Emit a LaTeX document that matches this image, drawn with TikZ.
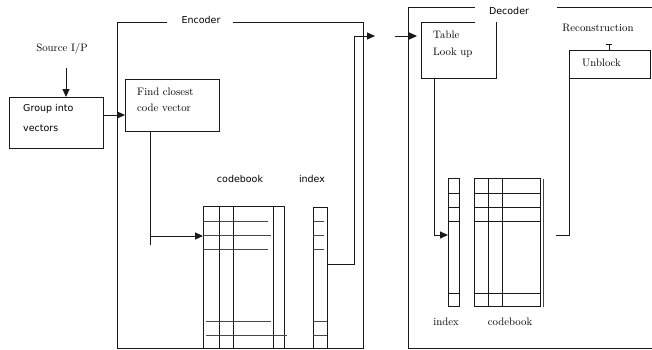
\documentclass[tikz,border=0pt]{standalone}
\usepackage{fontspec}
\newfontfamily\sansf{DejaVu Sans}
\usetikzlibrary{arrows.meta}
\begin{document}
\begin{tikzpicture}[x=1pt,y=-1pt,
  ln/.style={line width=1pt, draw=black!90},
  gl/.style={line width=1pt, draw=black!72},
  arr/.style={ln,-{Triangle[length=8pt,width=7pt]}},
  box/.style={ln, draw, rectangle, inner sep=0pt, outer sep=0pt},
  ghost/.style={rectangle, inner sep=0pt, outer sep=0pt},
  ser/.style={font=\fontsize{10.8}{13}\selectfont, inner sep=0pt, anchor=west},
  serc/.style={font=\fontsize{10.8}{13}\selectfont, inner sep=0pt},
  san/.style={font=\sansf\fontsize{9.5}{12}\selectfont, inner sep=0pt, anchor=west},
  sanc/.style={font=\sansf\fontsize{9.5}{12}\selectfont, inner sep=0pt},
]
\useasboundingbox (0,0) rectangle (652,349);

% ---------- Encoder frame ----------
\draw[ln] (167,22) -- (117,22) -- (117,348) -- (363,348) -- (363,22) -- (233,22);
\node[sanc] (enclab) at (201,20) {Encoder};

% ---------- Decoder frame ----------
\draw[ln] (475,7) -- (408,7) -- (408,348) -- (652,348);
\draw[ln] (557,7) -- (652,7);
\node[sanc] (declab) at (509,11) {Decoder};

% ---------- Source / Group ----------
\node[serc] (src) at (62,49) {Source I/P};
\node[box, minimum width=94pt, minimum height=51pt] (group) at (56,122.5) {};
\node[san] (g1) at (23,109) {Group into};
\node[san] (g2) at (23,128) {vectors};
\coordinate (s1) at (66,68);
\draw[arr] (s1) -- (s1 |- group.north);

% ---------- Find closest ----------
\node[box, minimum width=94pt, minimum height=52pt] (find) at (172,105) {};
\node[ser] (f1) at (137,92) {Find closest};
\node[ser] (f2) at (137,108) {code vector};
\coordinate (a1) at (0,115);
\draw[arr] (group.east |- a1) -- (find.west |- a1);

% ---------- Encoder codebook ----------
\node[box, minimum width=81pt, minimum height=142pt] (ecb) at (243.5,277) {};
\node[sanc] (ecblab) at (240,179) {codebook};
\foreach \x in {219,233,273} \draw[ln] (\x,206) -- (\x,348);
\draw[gl] (203,221) -- (268,221);
\draw[gl] (203,235) -- (271,235);
\draw[gl] (203,249) -- (268,249);
\draw[gl] (206,321) -- (271,321);
\draw[gl] (206,335) -- (287,335);

% ---------- Encoder index ----------
\node[box, minimum width=14pt, minimum height=141pt] (eidx) at (320,277.5) {};
\node[sanc] (eidxlab) at (312,179) {index};
\foreach \y in {221,235,249} \draw[gl] (313,\y) -- (324,\y);
\foreach \y in {321,335} \draw[gl] (313,\y) -- (327,\y);

% find -> codebook
\coordinate (b1) at (150,236);
\draw[ln] (find.south -| b1) -- (150,245);
\draw[arr] (b1) -- (ecb.west |- b1);

% index -> out of encoder
\coordinate (c1) at (354,264);
\coordinate (c2) at (375,36);
\draw[arr] (eidx.east |- c1) -- (c1) -- (c1 |- c2) -- (c2);
\coordinate (c3) at (395,36);
\coordinate (c4) at (417,36);
\draw[arr] (c3) -- (c4);

% ---------- Table look up ----------
\node[ghost, minimum width=75pt, minimum height=56pt] (table) at (458.5,50) {};
\draw[ln] (475,22) -- (table.north west) -- (table.south west) -- (table.south east) -- (table.north east);
\node[ser] (t1) at (433,35) {Table};
\node[ser] (t2) at (433,53) {Look up};

% ---------- Decoder index ----------
\node[box, minimum width=11pt, minimum height=128pt] (didx) at (453.5,242) {};
\node[serc] (didxlab) at (446,322) {index};
\foreach \y in {193,207,221,293} \draw[ln] (448,\y) -- (459,\y);

% ---------- Decoder codebook ----------
\node[box, minimum width=66pt, minimum height=128pt] (dcb) at (507,242) {};
\node[serc] (dcblab) at (510,322) {codebook};
\foreach \x in {488,502} \draw[ln] (\x,178) -- (\x,306);
\foreach \y in {193,207,221,293} \draw[ln] (474,\y) -- (540,\y);
\draw[gl] (543,179) -- (543,307);

% table -> decoder index
\coordinate (d1) at (434,235);
\draw[arr] (table.south -| d1) -- (d1) -- (didx.west |- d1);

% ---------- Unblock ----------
\node[box, minimum width=81pt, minimum height=28pt] (unb) at (609.5,64) {};
\node[ser] (u1) at (582,63) {Unblock};
\node[serc] (rec) at (598,28) {Reconstruction};
\coordinate (e1) at (609,44);
\draw[ln,-{Bar[width=6pt]}] (unb.north -| e1) -- (e1);
\coordinate (e2) at (556,235);
\draw[ln] (unb.south west) -- (unb.south west |- e2) -- (e2);

\end{tikzpicture}
\end{document}
